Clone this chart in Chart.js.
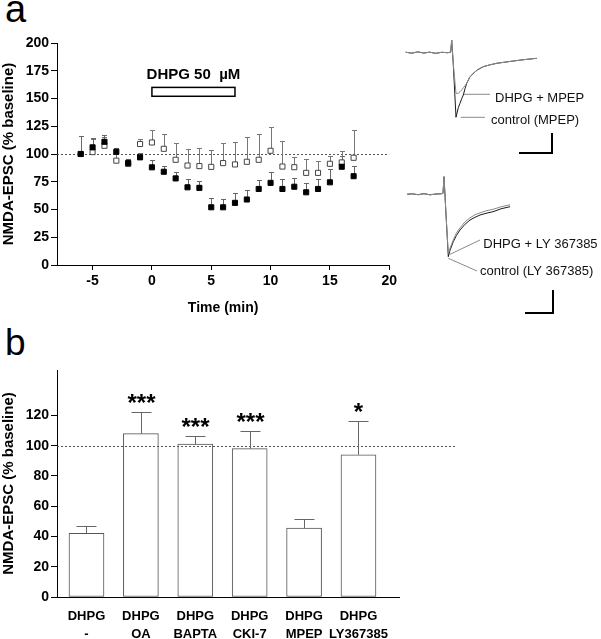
<!DOCTYPE html>
<html><head><meta charset="utf-8">
<script src="https://cdn.jsdelivr.net/npm/chart.js@4.4.1/dist/chart.umd.min.js"></script>
<style>
html,body{margin:0;padding:0;background:#fff;width:601px;height:639px;overflow:hidden}
.box{position:absolute}
.letter{position:absolute;font-family:"Liberation Sans",Arial,sans-serif;color:#000;line-height:1}
canvas{display:block}
</style></head><body>
<div class="letter" style="left:5px;top:-10px;font-size:38px">a</div>
<div class="letter" style="left:5px;top:324px;font-size:37px">b</div>
<div class="box" style="left:0;top:30px;width:400px;height:290px"><canvas id="ca" width="400" height="290"></canvas></div>
<div class="box" style="left:400px;top:30px;width:200px;height:130px"><canvas id="t1" width="200" height="130"></canvas></div>
<div class="box" style="left:400px;top:165px;width:200px;height:155px"><canvas id="t2" width="200" height="155"></canvas></div>
<div class="box" style="left:0;top:355px;width:470px;height:284px"><canvas id="cb" width="470" height="284"></canvas></div>
<script>
// ---------- Panel a data ----------
const timeMin      = [-6,-5,-4,-3,-2,-1,0,1,2,3,4,5,6,7,8,9,10,11,12,13,14,15,16,17];
const dhpgMean     = [100,106,111,102,92,97,88,84,78,70,69.5,52,52,56,59,68.5,74,68.5,70.5,65.5,68.5,74.5,88.5,80];
const dhpgSem      = [16,8,6,3.5,3.5,3.5,6.5,5,6,7.5,6,8,7.5,9,8.5,8,9.5,9,8,8,9,12,10,9];
const mpepMean     = [100,101.7,107.4,94,91,109,110.4,104.7,94.8,89.6,89.1,88.4,91.8,90.6,93,94.8,102.9,88.7,88.1,83,83,91.2,92.4,96.6];
const mpepSem      = [0,12,8,6,3,4.5,10.8,13.2,15,14.5,16,14.8,18,20,22,22.8,21,22.6,9.4,12.4,10.6,7.4,10,25.2];
const xTicksA      = [-5,0,5,10,15,20];
const drugLabel    = 'DHPG 50  \u00B5M';
const drugStart = 0, drugEnd = 7;

// ---------- Panel b data ----------
const barLine1  = ['DHPG','DHPG','DHPG','DHPG','DHPG','DHPG'];
const barLine2  = ['-','OA','BAPTA','CKI-7','MPEP','LY367385'];
const barMean   = [42,108,101,98,45.6,94];
const barSem    = [5,14.5,5.3,11.8,6.1,22.4];
const barSig    = ['','***','***','***','','*'];

// ---------- Example traces (time rel. to stimulus, current rel. to baseline) ----------
const tr1Time    = [-46,-40,-34,-28,-22,-16,-10,-4,-1,0,1.5,4.3,6.6,8.3,10,11.6,13.3,15,18,21.6,26,31.6,38,45,53,61.6,72,85];
const tr1Control = [0.5,-0.5,0.8,-0.3,0.5,-0.6,0.4,0,0.5,12.7,-10,-64.6,-55,-50.6,-46,-42.3,-36,-30.6,-24.6,-20.6,-17,-14,-12.2,-10.6,-9.5,-8.3,-7,-5.6];
const tr1Dhpg    = [0.5,-0.5,0.8,-0.3,0.5,-0.6,0.4,0,0.5,12.7,-10,-40.6,-40.6,-39,-37.3,-35,-33,-30.6,-24.6,-20.6,-17,-14,-12.2,-10.6,-9.5,-8.3,-7,-5.6];
const tr2Time    = [-37,-32,-26,-20,-14,-8,-3,-1,0,2,4.3,6,9.3,12.5,16,21,26,31,36,42,49,57,66];
const tr2Control = [0,0.5,-0.4,0.6,-0.5,0.3,0.5,1,17.6,-20,-62.4,-56,-47.4,-41,-35.7,-30,-25.7,-23,-20.7,-19,-17.4,-14.5,-12.4];
const tr2Dhpg    = [0,0.5,-0.4,0.6,-0.5,0.3,0.5,1,17.6,-20,-59,-54,-45.5,-38.5,-33.5,-27.5,-23.5,-20.5,-18.5,-16.5,-15,-12.5,-10.5];
const tr1Labels  = ['DHPG + MPEP','control (MPEP)'];
const tr2Labels  = ['DHPG + LY 367385','control (LY 367385)'];

Chart.defaults.font.family = "'Liberation Sans', Arial, sans-serif";
Chart.defaults.color = '#000';
const FONT = "'Liberation Sans', Arial, sans-serif";

// ---------- Panel a ----------
const plugA = {
  id: 'plugA',
  beforeDatasetsDraw(chart) {
    const {ctx, chartArea: a, scales: {x, y}} = chart;
    ctx.save();
    ctx.strokeStyle = '#555'; ctx.lineWidth = 1; ctx.setLineDash([2, 2]);
    const yb = Math.round(y.getPixelForValue(100)) + 0.5;
    ctx.beginPath(); ctx.moveTo(a.left, yb); ctx.lineTo(a.right, yb); ctx.stroke();
    ctx.setLineDash([]);
    const series = [[mpepMean, mpepSem, '#777'], [dhpgMean, dhpgSem, '#666']];
    series.forEach(([m, s, col]) => {
      ctx.strokeStyle = col; ctx.lineWidth = 1;
      timeMin.forEach((t, i) => {
        if (!s[i]) return;
        const px = Math.round(x.getPixelForValue(t)) + 0.5;
        const y0 = y.getPixelForValue(m[i]);
        const y1 = Math.round(y.getPixelForValue(m[i] + s[i])) + 0.5;
        ctx.beginPath(); ctx.moveTo(px, y0); ctx.lineTo(px, y1);
        ctx.moveTo(px - 2.5, y1); ctx.lineTo(px + 2.5, y1); ctx.stroke();
      });
    });
    ctx.restore();
  },
  afterDraw(chart) {
    const {ctx, scales: {x, y}} = chart;
    ctx.save();
    ctx.strokeStyle = '#000'; ctx.lineWidth = 1.5;
    const x0 = x.getPixelForValue(drugStart), x1 = x.getPixelForValue(drugEnd);
    const yt = y.getPixelForValue(160), ybt = y.getPixelForValue(152);
    ctx.strokeRect(x0, yt, x1 - x0, ybt - yt);
    ctx.fillStyle = '#000';
    ctx.font = 'bold 15px ' + FONT;
    ctx.textAlign = 'center'; ctx.textBaseline = 'middle';
    ctx.fillText(drugLabel, x.getPixelForValue((drugStart + drugEnd) / 2), y.getPixelForValue(171.5));
    ctx.restore();
  }
};

new Chart(document.getElementById('ca'), {
  type: 'scatter',
  data: {
    datasets: [
      { label: 'DHPG', data: timeMin.map((t, i) => ({x: t, y: dhpgMean[i]})),
        pointStyle: 'rect', pointRadius: 3.6, backgroundColor: '#000', borderColor: '#000', borderWidth: 1 },
      { label: 'DHPG + MPEP', data: timeMin.map((t, i) => ({x: t, y: mpepMean[i]})),
        pointStyle: 'rect', pointRadius: 3.6, backgroundColor: '#fff', borderColor: '#444', borderWidth: 1 }
    ]
  },
  options: {
    responsive: false, animation: false, devicePixelRatio: 1,
    layout: { padding: { top: 13, right: 9, left: 0, bottom: 0 } },
    plugins: { legend: { display: false }, tooltip: { enabled: false } },
    scales: {
      x: {
        type: 'linear', min: -8, max: 20,
        afterBuildTicks: ax => { ax.ticks = xTicksA.map(v => ({value: v})); },
        afterFit: s => { s.height = 55; },
        ticks: { font: { size: 14, weight: 'bold' }, color: '#000', padding: 3, maxRotation: 0 },
        grid: { drawOnChartArea: false, drawTicks: true, tickLength: 5, color: '#000' },
        border: { display: true, color: '#000', width: 1 },
        title: { display: true, text: 'Time (min)', font: { size: 14, weight: 'bold' }, color: '#000', padding: { top: 0, bottom: 3 } }
      },
      y: {
        min: 0, max: 200,
        afterFit: s => { s.width = 57; },
        ticks: { stepSize: 25, font: { size: 14, weight: 'bold' }, color: '#000', padding: 2 },
        grid: { drawOnChartArea: false, drawTicks: true, tickLength: 6, color: '#000' },
        border: { display: true, color: '#000', width: 1 },
        title: { display: true, text: 'NMDA-EPSC (% baseline)', font: { size: 15, weight: 'bold' }, color: '#000', padding: { top: 0, bottom: 0 } }
      }
    }
  },
  plugins: [plugA]
});

// ---------- Traces ----------
function labelPlugin(items) {
  return {
    id: 'lbl',
    afterDatasetsDraw(chart) {
      const {ctx, scales: {x, y}} = chart;
      ctx.save();
      ctx.fillStyle = '#111';
      ctx.font = '13px ' + FONT;
      ctx.textAlign = 'left'; ctx.textBaseline = 'middle';
      items.forEach(it => ctx.fillText(it.text, x.getPixelForValue(it.t), y.getPixelForValue(it.i)));
      ctx.restore();
    }
  };
}
function traceChart(id, time, ctrl, dhpg, xr, yr, leaders, bar, labels) {
  const line = (pts, col, w) => ({ data: pts, showLine: true, borderColor: col, borderWidth: w, pointRadius: 0, tension: 0, fill: false });
  const ds = [
    line(time.map((t, i) => ({x: t, y: dhpg[i]})), '#8a8a8a', 1),
    line(time.map((t, i) => ({x: t, y: ctrl[i]})), '#1a1a1a', 1),
  ];
  leaders.forEach(l => ds.push(line(l, '#8a8a8a', 1)));
  ds.push(line(bar, '#000', 2));
  new Chart(document.getElementById(id), {
    type: 'scatter',
    data: { datasets: ds },
    options: {
      responsive: false, animation: false, devicePixelRatio: 1,
      layout: { padding: 0 },
      plugins: { legend: { display: false }, tooltip: { enabled: false } },
      scales: { x: { type: 'linear', display: false, min: xr[0], max: xr[1] },
                y: { type: 'linear', display: false, min: yr[0], max: yr[1] } }
    },
    plugins: [labelPlugin(labels)]
  });
}
traceChart('t1', tr1Time, tr1Control, tr1Dhpg, [-51.7, 148.3], [-107.3, 22.7],
  [[{x: 11.6, y: -41.6}, {x: 38.3, y: -41.6}], [{x: 9, y: -64.6}, {x: 33.3, y: -64.6}]],
  [{x: 67.3, y: -100.3}, {x: 100.3, y: -100.3}, {x: 100.3, y: -80.3}],
  [{t: 43.3, i: -45.6, text: tr1Labels[0]}, {t: 39.3, i: -67.8, text: tr1Labels[1]}]);
traceChart('t2', tr2Time, tr2Control, tr2Dhpg, [-44, 156], [-125.7, 29.3],
  [[{x: 6, y: -60}, {x: 36, y: -45.7}], [{x: 4.3, y: -64}, {x: 33, y: -76.7}]],
  [{x: 81, y: -118.7}, {x: 109, y: -118.7}, {x: 109, y: -95.7}],
  [{t: 39.3, i: -50, text: tr2Labels[0]}, {t: 36, i: -77.5, text: tr2Labels[1]}]);

// ---------- Panel b ----------
const barPos = barMean.map((_, i) => i + 1);
const plugB = {
  id: 'plugB',
  afterDatasetsDraw(chart) {
    const {ctx, chartArea: a, scales: {x, y}} = chart;
    ctx.save();
    ctx.strokeStyle = '#000'; ctx.lineWidth = 1;
    const yb0 = Math.round(a.bottom) + 0.5;
    ctx.beginPath(); ctx.moveTo(a.left, yb0); ctx.lineTo(x.getPixelForValue(6.763), yb0); ctx.stroke();
    ctx.strokeStyle = '#555'; ctx.setLineDash([2, 2]);
    const yb = Math.round(y.getPixelForValue(100)) + 0.5;
    ctx.beginPath(); ctx.moveTo(a.left, yb); ctx.lineTo(a.right, yb); ctx.stroke();
    ctx.setLineDash([]);
    ctx.strokeStyle = '#666';
    barPos.forEach((p, i) => {
      const px = Math.round(x.getPixelForValue(p)) + 0.5;
      const y0 = y.getPixelForValue(barMean[i]);
      const y1 = Math.round(y.getPixelForValue(barMean[i] + barSem[i])) + 0.5;
      ctx.beginPath(); ctx.moveTo(px, y0); ctx.lineTo(px, y1);
      ctx.moveTo(px - 10, y1); ctx.lineTo(px + 10, y1); ctx.stroke();
      if (barSig[i]) {
        ctx.fillStyle = '#000';
        ctx.font = 'bold 24px ' + FONT;
        ctx.textAlign = 'center'; ctx.textBaseline = 'middle';
        ctx.fillText(barSig[i], px, y1 - 8);
      }
    });
    ctx.restore();
  }
};
new Chart(document.getElementById('cb'), {
  type: 'bar',
  data: { datasets: [{ data: barPos.map((p, i) => ({x: p, y: barMean[i]})),
    backgroundColor: '#fff', borderColor: '#555', borderWidth: 1, borderSkipped: false, barThickness: 35 }] },
  options: {
    responsive: false, animation: false, devicePixelRatio: 1,
    layout: { padding: { top: 15, right: 13, left: 0, bottom: 0 } },
    plugins: { legend: { display: false }, tooltip: { enabled: false } },
    scales: {
      x: {
        type: 'linear', min: 0.458, max: 7.811, offset: false,
        afterBuildTicks: ax => { ax.ticks = barPos.map(v => ({value: v})); },
        afterFit: s => { s.height = 42; },
        ticks: { autoSkip: false, maxRotation: 0, color: '#000', padding: 10,
                 font: { size: 13, weight: 'bold', lineHeight: 1.4 },
                 callback: (v, i) => [barLine1[i], barLine2[i]] },
        grid: { display: false, drawTicks: false },
        border: { display: false }
      },
      y: {
        min: 0, max: 150,
        afterBuildTicks: ax => { ax.ticks = ax.ticks.filter(t => t.value <= 140); },
        afterFit: s => { s.width = 57; },
        ticks: { stepSize: 20, font: { size: 14, weight: 'bold' }, color: '#000', padding: 2 },
        grid: { drawOnChartArea: false, drawTicks: true, tickLength: 6, color: '#000' },
        border: { display: true, color: '#000', width: 1 },
        title: { display: true, text: 'NMDA-EPSC (% baseline)', font: { size: 15, weight: 'bold' }, color: '#000', padding: { top: 0, bottom: 0 } }
      }
    }
  },
  plugins: [plugB]
});
</script>
</body></html>
